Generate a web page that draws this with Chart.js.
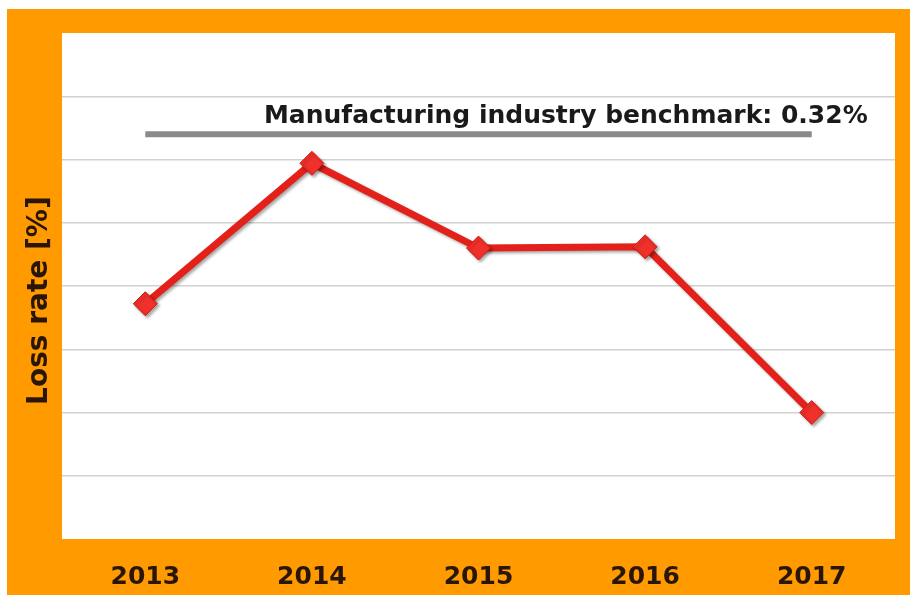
<!DOCTYPE html>
<html>
<head>
<meta charset="utf-8">
<script src="https://cdn.jsdelivr.net/npm/chart.js@4"></script>
<style>
  html, body { margin: 0; padding: 0; background: #fff; }
  #wrap { width: 910px; height: 595px; }
</style>
</head>
<body>
<div id="wrap"><canvas id="lossChart" width="910" height="595"></canvas></div>
<script>
const years = ["2013", "2014", "2015", "2016", "2017"];
const lossRate = [0.186, 0.297, 0.230, 0.231, 0.100];
const benchmarkValue = 0.32;
const benchmark = [0.32, 0.32, 0.32, 0.32, 0.32];
const benchmarkLabel = "Manufacturing industry benchmark: 0.32%";
const yTitle = "Loss rate [%]";

const fontFamily = "'DejaVu Sans', Verdana, sans-serif";

// orange frame + white plot area
const backgroundPlugin = {
  id: "background",
  beforeDraw(chart) {
    const ctx = chart.ctx;
    const a = chart.chartArea;
    ctx.save();
    ctx.fillStyle = "#ffffff";
    ctx.fillRect(0, 0, chart.width, chart.height);
    ctx.fillStyle = "#ff9a00";
    ctx.fillRect(7, 9, chart.width - 7, chart.height - 9);
    ctx.fillStyle = "#ffffff";
    ctx.fillRect(a.left, a.top, a.right - a.left, a.bottom - a.top);
    ctx.restore();
  },
  beforeDatasetDraw(chart, args) {
    if (args.index === 0) {
      const ctx = chart.ctx;
      ctx.save();
      ctx.shadowColor = "rgba(0,0,0,0.35)";
      ctx.shadowBlur = 3;
      ctx.shadowOffsetX = 2;
      ctx.shadowOffsetY = 2;
    }
  },
  afterDatasetDraw(chart, args) {
    if (args.index === 0) chart.ctx.restore();
  },
  afterDatasetsDraw(chart) {
    const ctx = chart.ctx;
    const x = chart.scales.x;
    const y = chart.scales.y;
    const py = y.getPixelForValue(benchmarkValue);
    ctx.save();
    ctx.font = "bold 25px " + fontFamily;
    ctx.fillStyle = "#1a1a1a";
    ctx.textAlign = "right";
    ctx.textBaseline = "alphabetic";
    ctx.fillText(benchmarkLabel, x.getPixelForValue(4) + 56, py - 11);
    ctx.restore();
  }
};

const ctx = document.getElementById("lossChart").getContext("2d");
const lossChart = new Chart(ctx, {
  type: "line",
  data: {
    labels: years,
    datasets: [
      {
        label: "Loss rate",
        data: lossRate,
        borderColor: "#e3201a",
        borderWidth: 7,
        pointStyle: "rectRot",
        pointRadius: 12,
        pointBackgroundColor: "#f0302a",
        pointBorderColor: "#d51a14",
        pointBorderWidth: 1,
        tension: 0
      },
      {
        label: "Benchmark",
        data: benchmark,
        borderColor: "#8a8a8a",
        borderWidth: 6,
        pointRadius: 0,
        borderCapStyle: "butt"
      }
    ]
  },
  options: {
    responsive: false,
    animation: false,
    layout: { padding: { left: 0, right: 15, top: 33, bottom: 0 } },
    plugins: {
      legend: { display: false },
      tooltip: { enabled: false }
    },
    scales: {
      x: {
        offset: true,
        grid: { display: false, drawTicks: false },
        border: { display: false },
        ticks: {
          padding: 23,
          color: "#2a1608",
          font: { family: fontFamily, size: 25, weight: "bold" }
        },
        afterFit(scale) { scale.height = 56; }
      },
      y: {
        min: 0,
        max: 0.4,
        border: { display: false },
        grid: {
          drawTicks: false,
          lineWidth: 1.5,
          color: (c) => (c.tick && (c.tick.value <= 0 || c.tick.value >= 0.4)) ? "rgba(0,0,0,0)" : "#d2d2d2"
        },
        ticks: { display: false, stepSize: 0.05 },
        title: {
          display: true,
          text: yTitle + "   ",
          color: "#2a1608",
          padding: { top: 23, bottom: 0 },
          font: { family: fontFamily, size: 28, weight: "bold" }
        },
        afterFit(scale) { scale.width = 62; }
      }
    }
  },
  plugins: [backgroundPlugin]
});
</script>
</body>
</html>
